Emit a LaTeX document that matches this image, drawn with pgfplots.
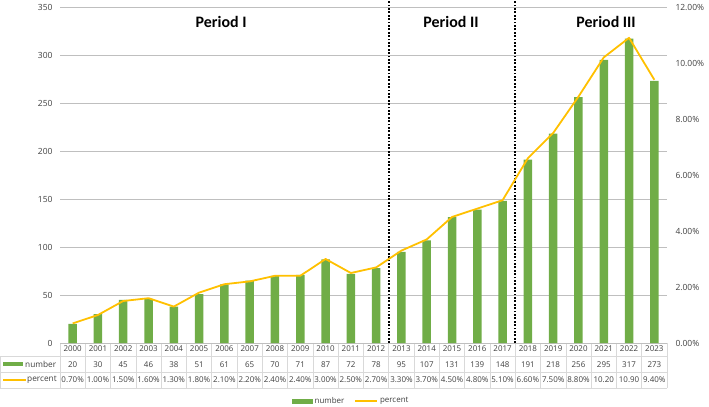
\documentclass[border=0pt]{standalone}
\usepackage{pgfplots}
\pgfplotsset{compat=1.18}
\usepackage{pgfplotstable}
\usepackage{fontspec}
\setmainfont{Open Sans}
\newfontfamily\calfont{Carlito}
\definecolor{bargreen}{HTML}{70AD47}
\definecolor{lineyel}{HTML}{FFC000}
\definecolor{txt}{HTML}{404040}
\definecolor{gridc}{HTML}{BFBFBF}
\definecolor{tabc}{HTML}{D9D9D9}

\pgfplotstableread{
x year num pct
0 2000 20 0.70
1 2001 30 1.00
2 2002 45 1.50
3 2003 46 1.60
4 2004 38 1.30
5 2005 51 1.80
6 2006 61 2.10
7 2007 65 2.20
8 2008 70 2.40
9 2009 71 2.40
10 2010 87 3.00
11 2011 72 2.50
12 2012 78 2.70
13 2013 95 3.30
14 2014 107 3.70
15 2015 131 4.50
16 2016 139 4.80
17 2017 148 5.10
18 2018 191 6.60
19 2019 218 7.50
20 2020 256 8.80
21 2021 295 10.20
22 2022 317 10.90
23 2023 273 9.40
}\data

\begin{document}
\begin{tikzpicture}
\useasboundingbox (0bp,0bp) rectangle (709bp,407bp);
% table grid
\foreach \k in {0,...,24} {
  \draw[tabc, line width=0.6bp] ({(60+\k*25.2917)*1bp},64bp) -- ({(60+\k*25.2917)*1bp},19bp);
}
\draw[tabc, line width=0.6bp] (0.3bp,50.5bp) -- (0.3bp,19bp);
\draw[tabc, line width=0.6bp] (0bp,50.5bp) -- (667bp,50.5bp);
\draw[tabc, line width=0.6bp] (0bp,35bp) -- (667bp,35bp);
\draw[tabc, line width=0.6bp] (0bp,19bp) -- (667bp,19bp);
% row headers
\fill[bargreen] (3bp,41bp) rectangle (23bp,45bp);
\node[anchor=west, inner sep=0pt, font=\fontsize{8.3}{9.6}\selectfont, text=txt] at (25bp,43bp) {number};
\draw[lineyel, line width=1.6bp] (3bp,27bp) -- (26bp,27bp);
\node[anchor=west, inner sep=0pt, font=\fontsize{8.3}{9.6}\selectfont, text=txt] at (27bp,27bp) {percent};

\begin{axis}[
  at={(60bp,64bp)}, anchor=south west,
  scale only axis, width=607bp, height=336bp,
  xmin=-0.5, xmax=23.5, ymin=0, ymax=350,
  axis y line*=left, axis x line*=bottom,
  y axis line style={draw=none},
  x axis line style={draw=gridc, line width=0.6bp},
  ytick={0,50,...,350},
  ymajorgrids, grid style={gridc, line width=0.8bp},
  major tick length=0,
  xtick=data,
  xticklabels={{2000\\20\\0.70\%},{2001\\30\\1.00\%},{2002\\45\\1.50\%},{2003\\46\\1.60\%},{2004\\38\\1.30\%},{2005\\51\\1.80\%},{2006\\61\\2.10\%},{2007\\65\\2.20\%},{2008\\70\\2.40\%},{2009\\71\\2.40\%},{2010\\87\\3.00\%},{2011\\72\\2.50\%},{2012\\78\\2.70\%},{2013\\95\\3.30\%},{2014\\107\\3.70\%},{2015\\131\\4.50\%},{2016\\139\\4.80\%},{2017\\148\\5.10\%},{2018\\191\\6.60\%},{2019\\218\\7.50\%},{2020\\256\\8.80\%},{2021\\295\\10.20},{2022\\317\\10.90},{2023\\273\\9.40\%}},
  xticklabel style={align=center, font=\fontsize{8}{15.5}\selectfont, text=txt, anchor=north, inner sep=0pt, yshift=-3bp},
  yticklabel style={font=\fontsize{8.5}{10}\selectfont, text=txt, xshift=-4bp},
  /pgf/number format/assume math mode=true,
  clip=false,
]
\addplot[ybar, bar width=8.5bp, fill=bargreen, draw=none] table[x=x,y=num]{\data};
\draw[black, line width=1.8bp, dash pattern=on 1.8bp off 1.6bp] (axis cs:12.5,0) -- (axis cs:12.5,357);
\draw[black, line width=1.8bp, dash pattern=on 1.8bp off 1.6bp] (axis cs:17.5,0) -- (axis cs:17.5,357);
\node[font=\calfont\bfseries\fontsize{16}{19}\selectfont, text=black] at (axis cs:5.87,334) {Period I};
\node[font=\calfont\bfseries\fontsize{16}{19}\selectfont, text=black] at (axis cs:14.96,334) {Period II};
\node[font=\calfont\bfseries\fontsize{16}{19}\selectfont, text=black] at (axis cs:21.09,334) {Period III};
\end{axis}

\begin{axis}[
  at={(60bp,64bp)}, anchor=south west,
  scale only axis, width=607bp, height=336bp,
  xmin=-0.5, xmax=23.5, ymin=0, ymax=12,
  axis y line*=right, axis x line=none,
  y axis line style={draw=none},
  major tick length=0,
  ytick={0,2,...,12},
  yticklabel={\pgfmathprintnumber[fixed,fixed zerofill,precision=2]{\tick}\%},
  yticklabel style={font=\fontsize{8.5}{10}\selectfont, text=txt, xshift=5bp},
  /pgf/number format/assume math mode=true,
  clip=false,
  legend style={at={(0.48,-0.172)}, anchor=center, draw=none, fill=none,
    legend columns=2, font=\fontsize{8}{9.6}\selectfont, text=txt,
    /tikz/every even column/.append style={column sep=8bp}},
]
\addlegendimage{legend image code/.code={\fill[bargreen] (0bp,-2bp) rectangle (20bp,2bp);}}
\addlegendentry{number}
\addlegendimage{legend image code/.code={\draw[lineyel, line width=1.6bp] (0bp,0bp) -- (22bp,0bp);}}
\addlegendentry{percent}
\addplot[lineyel, line width=1.8bp, mark=none, line join=round, forget plot]
  table[x=x,y=pct]{\data};
\end{axis}
\end{tikzpicture}
\end{document}
